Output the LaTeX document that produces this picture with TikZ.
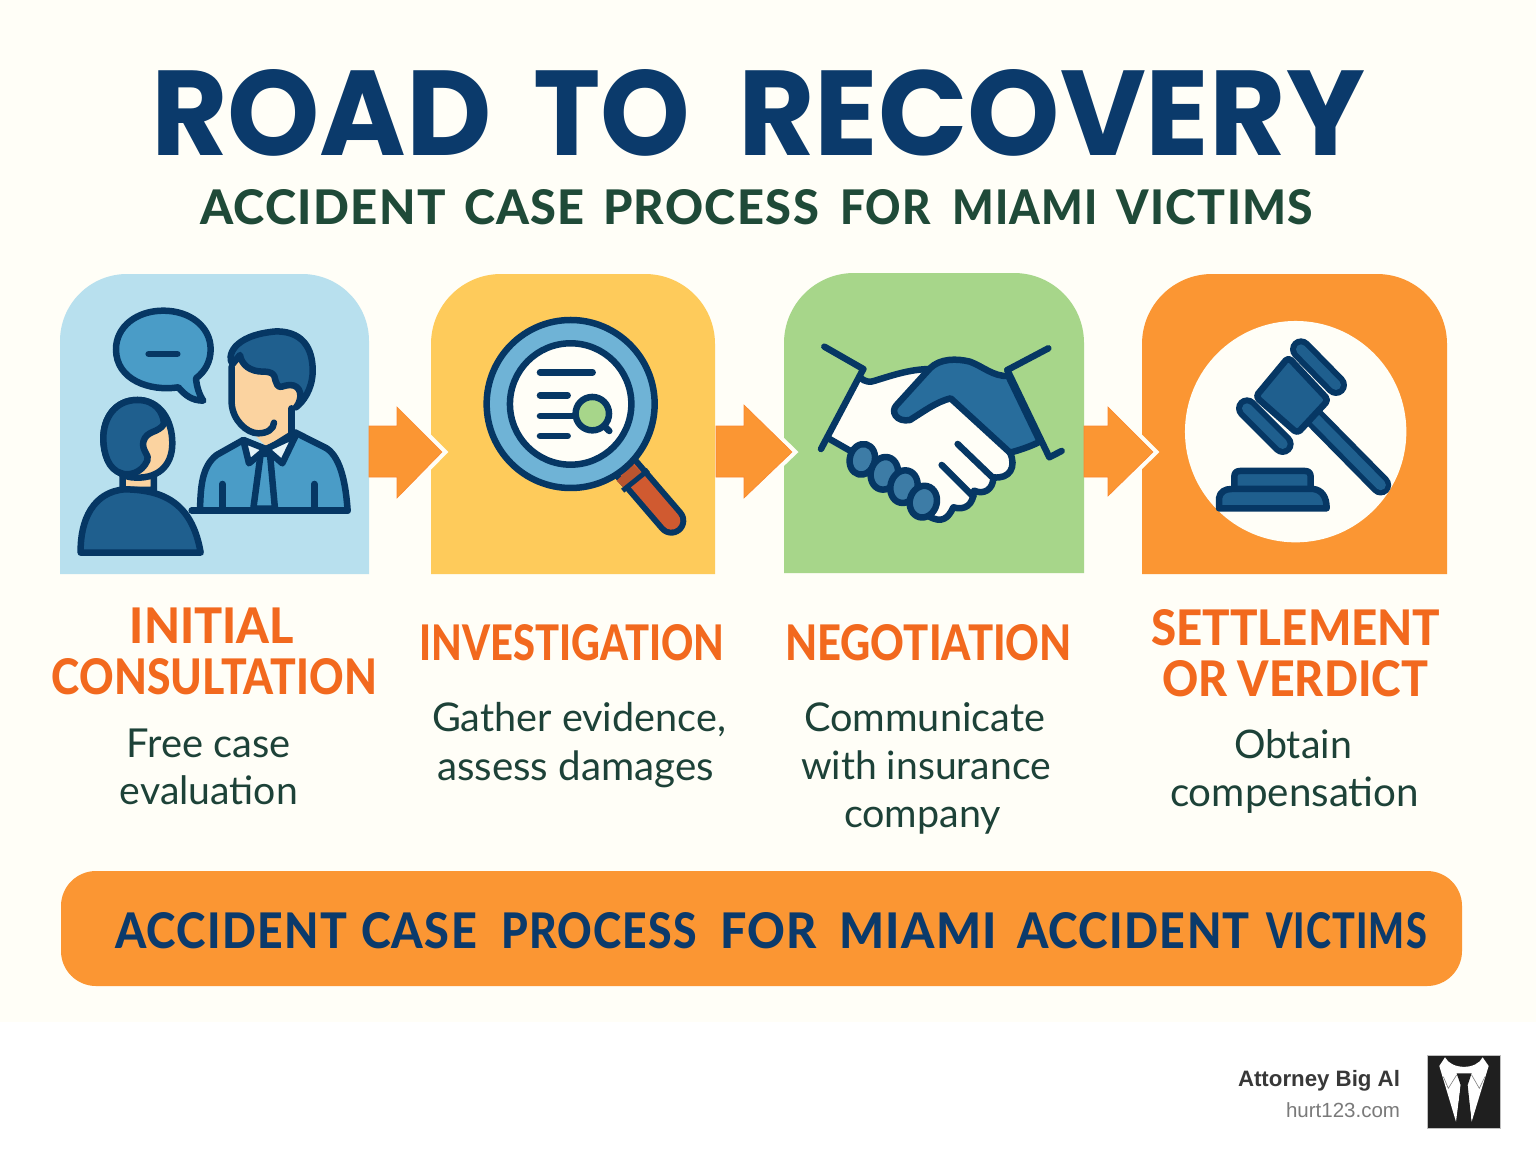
\documentclass[tikz,border=0pt]{standalone}
\usepackage{graphicx}
\usepackage{fontspec}
\setmainfont{Lato}
\newfontfamily\heavyfont{Lato Heavy}
\newfontfamily\titlefont{Poppins}
\newfontfamily\footfont{Liberation Sans}
\definecolor{bgcream}{HTML}{FFFEF7}
\definecolor{navy}{HTML}{0B3A6B}
\definecolor{ink}{HTML}{063764}
\definecolor{dgreen}{HTML}{1F4A38}
\definecolor{bodygreen}{HTML}{1D4238}
\definecolor{headorange}{HTML}{F2691E}
\definecolor{orange}{HTML}{FB9633}
\definecolor{pblue}{HTML}{B8E0EE}
\definecolor{pyellow}{HTML}{FECB5B}
\definecolor{pgreen}{HTML}{A7D68A}
\definecolor{midblue}{HTML}{4A9CC7}
\definecolor{hairblue}{HTML}{1F5F8E}
\definecolor{skin}{HTML}{FBD3A0}
\definecolor{ringblue}{HTML}{6FB3D6}
\definecolor{handred}{HTML}{D05A30}
\definecolor{collarred}{HTML}{B9552F}
\definecolor{handblue}{HTML}{286D9C}
\definecolor{collarwhite}{HTML}{E4F3F8}
\tikzset{
  txt/.style={inner sep=0pt,outer sep=0pt,anchor=base},
  rowtxt/.style={inner sep=0pt,outer sep=0pt,anchor=base west},
  icon/.style={draw=ink,line width=6.5pt,line join=round,line cap=round},
  halo/.style={draw=bgcream,line width=9pt,miter limit=10},
  blockarrow/.style={fill=orange,draw=orange!90!red,line width=.6pt},
}
\newcommand{\heading}[3]{\textcolor{headorange}{\resizebox{#1pt}{#2pt}{\fontsize{50}{50}\selectfont\heavyfont\vphantom{O}#3}}}
\newcommand{\bodyline}[2]{\textcolor{bodygreen}{\resizebox{#1pt}{!}{\fontsize{40}{40}\selectfont #2}}}
% one word in a row: advance, width, height, word
\newcommand{\capword}[4]{\makebox[#1pt][l]{\resizebox{#2pt}{#3pt}{\fontsize{50}{50}\selectfont\heavyfont\addfontfeature{LetterSpace=3}\vphantom{O}#4}}}
\newcommand{\titleword}[3]{\makebox[#1pt][l]{\resizebox{#2pt}{86pt}{\fontsize{118}{118}\selectfont\titlefont\bfseries\vphantom{O}#3}}}
\begin{document}
\begin{tikzpicture}[x=1pt,y=-1pt]
\useasboundingbox (0,0) rectangle (1536,1154);
\fill[white] (0,0) rectangle (1536,1154);
\fill[bgcream] (0,0) rectangle (1536,1022);
% panels
\fill[pblue] (60,574) [rounded corners=67pt] -- (60,274) -- (369,274) [sharp corners] -- (369,574) -- cycle;
\fill[pyellow] (431,574) [rounded corners=70pt] -- (431,274) -- (715,274) [sharp corners] -- (715,574) -- cycle;
\fill[pgreen] (784,573) [rounded corners=70pt] -- (784,273) -- (1084,273) [sharp corners] -- (1084,573) -- cycle;
\fill[orange] (1142,574) [rounded corners=70pt] -- (1142,274) -- (1447,274) [sharp corners] -- (1447,574) -- cycle;
% arrows
\draw[halo] (397,407) -- (442,452) -- (397,498);
\fill[blockarrow] (369,426) -- (397,426) -- (397,407) -- (442,452) -- (397,498) -- (397,477) -- (369,477) -- cycle;
\draw[halo] (744,405) -- (792,452) -- (744,498);
\fill[blockarrow] (716,426) -- (744,426) -- (744,405) -- (792,452) -- (744,498) -- (744,477) -- (716,477) -- cycle;
\draw[halo] (1108,407) -- (1153,452) -- (1108,496);
\fill[blockarrow] (1084,426) -- (1108,426) -- (1108,407) -- (1153,452) -- (1108,496) -- (1108,477) -- (1084,477) -- cycle;
% --- icon 1: consultation
\begin{scope}[shift={(50,270)},x=.3333pt,y=-.3333pt]
\filldraw[icon,fill=midblue] (385,352) .. controls (300,365) and (198,330) .. (198,238) .. controls (198,170) and (260,122) .. (340,122) .. controls (420,122) and (482,170) .. (482,238) .. controls (482,275) and (465,305) .. (438,325) .. controls (440,350) and (448,375) .. (460,392) .. controls (425,392) and (405,375) .. (385,352) -- cycle;
\draw[icon] (296,252) -- (382,252);
% man
\fill[skin] (545,270) -- (545,400) .. controls (548,450) and (590,485) .. (615,495) -- (650,530) -- (725,485) -- (725,420) .. controls (755,410) and (770,380) .. (750,350) -- (700,300) -- cycle;
\draw[icon] (545,290) -- (545,400) .. controls (548,450) and (590,490) .. (625,490) .. controls (650,490) and (672,478) .. (672,458);
\draw[icon] (725,415) -- (725,490);
\filldraw[icon,fill=hairblue] (548,282) .. controls (530,262) and (545,195) .. (680,184) .. controls (770,185) and (790,250) .. (788,310) .. controls (785,360) and (760,395) .. (738,412) .. controls (760,385) and (755,345) .. (720,345) .. controls (700,345) and (690,358) .. (682,345) .. controls (670,330) and (685,305) .. (640,305) .. controls (600,305) and (575,285) .. (570,255) -- cycle;
\filldraw[icon,fill=midblue] (450,722) .. controls (452,650) and (455,590) .. (500,555) -- (580,510) -- (650,540) -- (735,487) -- (830,535) .. controls (875,565) and (888,650) .. (893,722) -- cycle;
\filldraw[icon,fill=midblue] (632,552) -- (610,716) -- (675,716) -- (660,552) -- cycle;
\filldraw[icon,fill=collarwhite] (580,510) -- (648,537) -- (597,580) -- cycle;
\filldraw[icon,fill=collarwhite] (738,495) -- (648,537) -- (697,580) -- cycle;
\draw[icon] (517,642) -- (517,716);
\draw[icon] (793,642) -- (793,716);
\draw[icon] (425,722) -- (893,722);
% client
\filldraw[icon,fill=skin] (218,600) -- (218,660) -- (312,660) -- (312,620) -- cycle;
\filldraw[icon,fill=skin] (262,390) .. controls (195,390) and (160,445) .. (160,505) .. controls (160,565) and (195,616) .. (245,622) .. controls (320,630) and (367,590) .. (367,520) .. controls (367,450) and (330,390) .. (262,390) -- cycle;
\filldraw[icon,fill=hairblue] (342,462) .. controls (325,490) and (290,480) .. (280,515) .. controls (275,545) and (300,555) .. (292,572) .. controls (275,610) and (235,618) .. (215,610) .. controls (175,600) and (160,550) .. (160,505) .. controls (160,445) and (195,390) .. (262,390) .. controls (315,390) and (340,425) .. (342,462) -- cycle;
\filldraw[icon,fill=hairblue] (92,848) .. controls (90,750) and (130,665) .. (225,658) .. controls (330,660) and (425,690) .. (452,848) -- cycle;
\end{scope}
% --- icon 2: magnifier
\begin{scope}[shift={(430,270)},x=.3333pt,y=-.3333pt]
\draw[ink,line width=30pt,line cap=round] (585,590) -- (724,752);
\draw[handred,line width=18pt,line cap=round] (585,590) -- (724,752);
\fill[collarred] (560,632) -- (610,585) -- (634,608) -- (582,655) -- cycle;
\draw[ink,line width=5pt] (578,662) -- (655,600);
\filldraw[draw=ink,line width=6.5pt,fill=ringblue] (422,402) circle (84pt);
\filldraw[draw=ink,line width=6.5pt,fill=bgcream] (422,402) circle (60.7pt);
\draw[icon] (330,307) -- (488,307);
\draw[icon] (330,376) -- (413,376);
\draw[icon] (330,438) -- (430,438);
\draw[icon] (330,498) -- (413,498);
\draw[icon] (525,470) -- (538,483);
\filldraw[icon,fill=pgreen] (487,431) circle (16.7pt);
\end{scope}
% --- icon 3: handshake
\begin{scope}[shift={(780,270)},x=.3333pt,y=-.3333pt]
\fill[bgcream] (150,495) -- (243,325) -- (275,335) .. controls (340,315) and (400,298) .. (450,295) -- (690,548) .. controls (710,590) and (690,628) .. (640,622) .. controls (640,660) and (610,675) .. (582,662) .. controls (580,705) and (555,722) .. (520,712) .. controls (505,745) and (485,762) .. (445,738) -- cycle;
\draw[icon] (243,325) .. controls (255,335) and (270,338) .. (285,332) .. controls (340,315) and (390,298) .. (450,297);
\filldraw[icon,fill=handblue] (450,295) .. controls (480,265) and (530,265) .. (570,275) .. controls (610,290) and (640,320) .. (685,318) -- (780,515) .. controls (750,530) and (720,540) .. (690,548) -- (512,385) .. controls (470,395) and (430,425) .. (390,450) .. controls (350,458) and (330,425) .. (350,405) -- cycle;
\draw[icon] (133,230) -- (250,297);
\draw[icon] (250,297) -- (123,537);
\draw[icon] (145,505) -- (215,545);
\draw[icon] (805,235) -- (682,300);
\draw[icon] (682,300) -- (808,562) -- (845,543);
\draw[icon] (690,548) .. controls (710,590) and (690,628) .. (640,622) .. controls (640,660) and (610,675) .. (582,662) .. controls (580,705) and (555,722) .. (520,712) .. controls (505,745) and (485,762) .. (445,738);
\draw[icon] (533,522) -- (635,620);
\draw[icon] (485,585) -- (580,680);
\filldraw[icon,fill=handblue!90!white] (247,568) ellipse [x radius=12.5pt,y radius=15.5pt,rotate=-15];
\filldraw[icon,fill=handblue!90!white] (313,610) ellipse [x radius=13.5pt,y radius=16.5pt,rotate=-15];
\filldraw[icon,fill=handblue!90!white] (372,650) ellipse [x radius=13.5pt,y radius=16.5pt,rotate=-15];
\filldraw[icon,fill=handblue!90!white] (430,695) ellipse [x radius=13.5pt,y radius=16pt,rotate=-15];
\end{scope}
% --- icon 4: gavel
\begin{scope}[shift={(1140,270)},x=.3333pt,y=-.3333pt]
\fill[bgcream] (467,485) circle (110.7pt);
\draw[ink,line width=21pt,line cap=round] (520,440) -- (722,645);
\draw[hairblue,line width=10.5pt,line cap=round] (520,440) -- (722,645);
\filldraw[icon,fill=hairblue,rounded corners=4pt] (347,380) -- (445,262) -- (565,390) -- (472,490) -- cycle;
\draw[ink,line width=22pt,line cap=round] (483,238) -- (588,345);
\draw[hairblue,line width=10pt,line cap=round] (483,238) -- (588,345);
\draw[ink,line width=22pt,line cap=round] (321,415) -- (428,522);
\draw[hairblue,line width=10pt,line cap=round] (321,415) -- (428,522);
\filldraw[icon,fill=hairblue] (283,655) -- (283,620) .. controls (283,608) and (290,603) .. (300,603) -- (495,603) .. controls (505,603) and (512,608) .. (512,620) -- (512,655);
\filldraw[icon,fill=hairblue] (237,715) -- (237,685) .. controls (240,665) and (255,657) .. (275,657) -- (520,657) .. controls (545,660) and (560,680) .. (560,715) -- cycle;
\end{scope}
% --- texts
\node[rowtxt,text=navy] (title) at (151,155) {\titleword{382}{341}{ROAD}\titleword{205}{157}{TO}\titleword{627}{627}{RECOVERY}};
\node[rowtxt,text=dgreen] (subtitle) at (200,224.5) {\capword{264}{246}{35}{ACCIDENT}\capword{139}{121}{35}{CASE}\capword{237}{216}{35}{PROCESS}\capword{112}{91}{35}{FOR}\capword{164.5}{146}{35}{MIAMI}\capword{197}{197}{35}{VICTIMS}};
\node[txt] (h1a) at (212,643.5) {\heading{164}{36}{INITIAL}};
\node[txt] (h1b) at (214.5,694.5) {\heading{325}{36}{CONSULTATION}};
\node[txt] (h2) at (572,660) {\heading{305}{36}{INVESTIGATION}};
\node[txt] (h3) at (928.5,660) {\heading{287}{36}{NEGOTIATION}};
\node[txt] (h4a) at (1296,645) {\heading{289}{36}{SETTLEMENT}};
\node[txt] (h4b) at (1295,696) {\heading{266}{36}{OR VERDICT}};
\node[txt] (b1a) at (209,757) {\bodyline{164}{Free case}};
\node[txt] (b1b) at (209,804) {\bodyline{178}{evaluation}};
\node[txt] (b2a) at (579,731) {\bodyline{294}{Gather evidence,}};
\node[txt] (b2b) at (575.5,780) {\bodyline{277}{assess damages}};
\node[txt] (b3a) at (924.5,731) {\bodyline{241}{Communicate}};
\node[txt] (b3b) at (926,779) {\bodyline{250}{with insurance}};
\node[txt] (b3c) at (922.5,827) {\bodyline{157}{company}};
\node[txt] (b4a) at (1293,758) {\bodyline{118}{Obtain}};
\node[txt] (b4b) at (1294.5,806) {\bodyline{249}{compensation}};
% banner
\fill[orange,rounded corners=35pt] (61,871) rectangle (1462,986);
\node[rowtxt,text=navy] (banner) at (115,948) {\capword{246}{232}{36}{ACCIDENT}\capword{140}{116}{36}{CASE}\capword{219}{196}{36}{PROCESS}\capword{119}{97}{36}{FOR}\capword{178}{158}{36}{MIAMI}\capword{249}{233}{36}{ACCIDENT}\capword{161}{161}{36}{VICTIMS}};
% footer
\node[inner sep=0pt,outer sep=0pt,anchor=base east,text=black!78] (brand) at (1400,1086) {\resizebox{162pt}{!}{\fontsize{23}{23}\selectfont\footfont\bfseries Attorney Big Al}};
\node[inner sep=0pt,outer sep=0pt,anchor=base east,text=black!52] (site) at (1400,1117) {\resizebox{114pt}{!}{\fontsize{20.5}{20.5}\selectfont\footfont hurt123.com}};
\begin{scope}[shift={(1200,1020)},x=.3333pt,y=-.3333pt]
\filldraw[fill=black!88,draw=black!25,line width=1pt] (683,105) rectangle (902,325);
\fill[white] (735,112) .. controls (755,150) and (830,150) .. (848,112) -- (866,138) -- (815,305) -- (800,190) -- (783,190) -- (768,305) -- (718,138) -- cycle;
\fill[black!88] (770,160) -- (815,160) -- (803,195) -- (813,290) -- (792,322) -- (772,290) -- (782,195) -- cycle;
\draw[black!50,line width=.6pt] (730,170) -- (745,205) -- (770,165);
\draw[black!50,line width=.6pt] (855,170) -- (838,205) -- (815,165);
\end{scope}
\end{tikzpicture}
\end{document}
